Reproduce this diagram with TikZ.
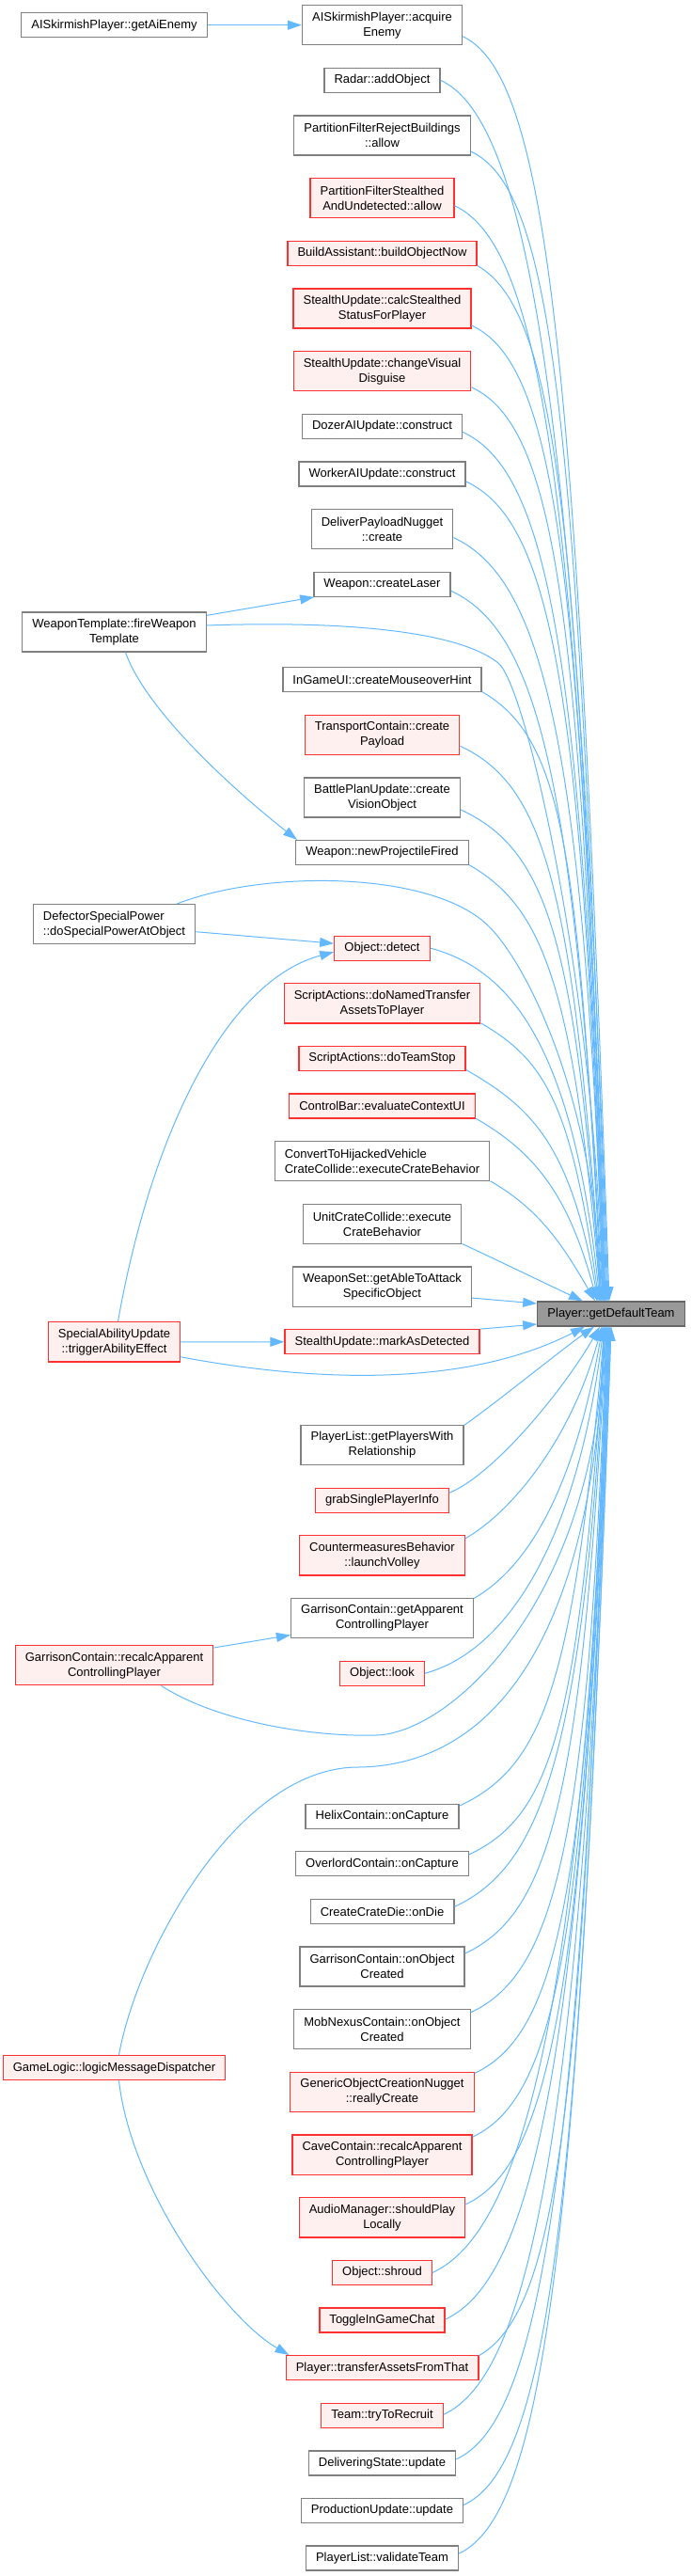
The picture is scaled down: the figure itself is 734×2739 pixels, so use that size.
\documentclass[tikz,border=0pt]{standalone}
\usepackage{fontspec}
\setmainfont{Liberation Sans}
\usetikzlibrary{arrows.meta, positioning}

\definecolor{edgeblue}{HTML}{63B8FF}
\definecolor{boxgray}{HTML}{7F7F7F}
\definecolor{boxred}{HTML}{FF3030}
\definecolor{boxpink}{HTML}{FFF0F0}
\definecolor{teamfill}{HTML}{999999}
\definecolor{teamdraw}{HTML}{666666}

\begin{document}
\begin{tikzpicture}[
    x=1pt, y=1pt,
    node distance=23.3pt,
    box/.style={rectangle, draw=boxgray, fill=white, line width=1.3pt,
    inner xsep=10.6pt, inner ysep=2pt, minimum height=26pt,
    align=center, font=\fontsize{13}{16}\selectfont},
    tall/.style={minimum height=42.1pt},
    warn/.style={draw=boxred, fill=boxpink},
    goalbox/.style={draw=teamdraw, fill=teamfill},
    arrow/.style={-{Triangle[length=15pt, width=10pt]}, draw=edgeblue,
    line width=1pt} ]

    \useasboundingbox (0,0) rectangle (734,-2739);

    % Called function
    \node[box, goalbox] (get_team) at (650,-1397) {Player::getDefaultTeam};

    % Direct callers (middle column)
    \node[box, tall] (acquire_enemy) at (406.5,-26.7)
	    {AISkirmishPlayer::acquire\\Enemy};
    \node[box, below=of acquire_enemy] (radar_add) {Radar::addObject};
    \node[box, tall, below=of radar_add] (reject_allow)
	    {PartitionFilterRejectBuildings\\::allow};
    \node[box, tall, warn, below=of reject_allow] (stealth_allow)
	    {PartitionFilterStealthed\\AndUndetected::allow};
    \node[box, warn, below=of stealth_allow] (build_now)
	    {BuildAssistant::buildObjectNow};
    \node[box, tall, warn, below=of build_now] (calc_status)
	    {StealthUpdate::calcStealthed\\StatusForPlayer};
    \node[box, tall, warn, below=of calc_status] (change_disguise)
	    {StealthUpdate::changeVisual\\Disguise};
    \node[box, below=of change_disguise] (dozer_construct)
	    {DozerAIUpdate::construct};
    \node[box, below=of dozer_construct] (worker_construct)
	    {WorkerAIUpdate::construct};
    \node[box, tall, below=of worker_construct] (deliver_create)
	    {DeliverPayloadNugget\\::create};
    \node[box, below=of deliver_create] (create_laser) {Weapon::createLaser};
    \node[box, below=74pt of create_laser] (mouseover_hint)
	    {InGameUI::createMouseoverHint};
    \node[box, tall, warn, below=of mouseover_hint] (transport_payload)
	    {TransportContain::create\\Payload};
    \node[box, tall, below=of transport_payload] (vision_object)
	    {BattlePlanUpdate::create\\VisionObject};
    \node[box, below=of vision_object] (new_projectile)
	    {Weapon::newProjectileFired};
    \node[box, warn, below=74.3pt of new_projectile] (detect) {Object::detect};
    \node[box, tall, warn, below=of detect] (named_transfer)
	    {ScriptActions::doNamedTransfer\\AssetsToPlayer};
    \node[box, warn, below=of named_transfer] (team_stop)
	    {ScriptActions::doTeamStop};
    \node[box, warn, below=of team_stop] (context_ui)
	    {ControlBar::evaluateContextUI};
    \node[box, tall, align=left, below=of context_ui] (exec_hijack)
	    {ConvertToHijackedVehicle\\CrateCollide::executeCrateBehavior};
    \node[box, tall, below=of exec_hijack] (exec_unit)
	    {UnitCrateCollide::execute\\CrateBehavior};
    \node[box, tall, below=of exec_unit] (weapon_set)
	    {WeaponSet::getAbleToAttack\\SpecificObject};
    \node[box, warn, below=of weapon_set] (mark_detected)
	    {StealthUpdate::markAsDetected};
    \node[box, tall, below=74.4pt of mark_detected] (players_with)
	    {PlayerList::getPlayersWith\\Relationship};
    \node[box, warn, below=of players_with] (grab_info) {grabSinglePlayerInfo};
    \node[box, tall, warn, below=of grab_info] (launch_volley)
	    {CountermeasuresBehavior\\::launchVolley};
    \node[box, tall, below=of launch_volley] (garr_get)
	    {GarrisonContain::getApparent\\ControllingPlayer};
    \node[box, warn, below=of garr_get] (look) {Object::look};
    \node[box, below=124.7pt of look] (helix_capture) {HelixContain::onCapture};
    \node[box, below=of helix_capture] (overlord_capture)
	    {OverlordContain::onCapture};
    \node[box, below=of overlord_capture] (crate_die) {CreateCrateDie::onDie};
    \node[box, tall, below=of crate_die] (garr_created)
	    {GarrisonContain::onObject\\Created};
    \node[box, tall, below=of garr_created] (mob_created)
	    {MobNexusContain::onObject\\Created};
    \node[box, tall, warn, below=of mob_created] (really_create)
	    {GenericObjectCreationNugget\\::reallyCreate};
    \node[box, tall, warn, below=of really_create] (cave_recalc)
	    {CaveContain::recalcApparent\\ControllingPlayer};
    \node[box, tall, warn, below=of cave_recalc] (play_locally)
	    {AudioManager::shouldPlay\\Locally};
    \node[box, warn, below=of play_locally] (shroud) {Object::shroud};
    \node[box, warn, below=of shroud] (toggle_chat) {ToggleInGameChat};
    \node[box, warn, below=of toggle_chat] (transfer_assets)
	    {Player::transferAssetsFromThat};
    \node[box, warn, below=of transfer_assets] (try_recruit)
	    {Team::tryToRecruit};
    \node[box, below=of try_recruit] (delivering_update)
	    {DeliveringState::update};
    \node[box, below=of delivering_update] (production_update)
	    {ProductionUpdate::update};
    \node[box, below=of production_update] (validate_team)
	    {PlayerList::validateTeam};

    % Indirect callers (left column)
    \node[box] (get_ai_enemy) at (121.5,-26.7) {AISkirmishPlayer::getAiEnemy};
    \node[box, tall] (fire_weapon) at (121.5,-672)
	    {WeaponTemplate::fireWeapon\\Template};
    \node[box, tall, align=left] (defector) at (121.5,-982.7)
	    {DefectorSpecialPower\\::doSpecialPowerAtObject};
    \node[box, tall, warn] (trigger_ability) at (121.5,-1426.8)
	    {SpecialAbilityUpdate\\::triggerAbilityEffect};
    \node[box, tall, warn] (garr_recalc) at (121.5,-1770.7)
	    {GarrisonContain::recalcApparent\\ControllingPlayer};
    \node[box, warn] (logic_dispatch) at (121.5,-2198.7)
	    {GameLogic::logicMessageDispatcher};

    % Calls coming down into the top of the target
    \foreach \src/\dy/\oa/\od/\ex/\ia/\id in {
        acquire_enemy/-12/-25/100/-2/92/1000, radar_add/0/-25/100/-3/92/970,
        reject_allow/-17/-25/100/-4/92/920, stealth_allow/-8/-25/100/-5/92/870,
        build_now/-13/-30/100/-6/92/820, calc_status/-18/-25/100/-6/92/780,
        change_disguise/-17/-25/100/-7/92/730,
        dozer_construct/-6/-25/100/-7/92/690,
        worker_construct/-8/-25/100/-8/92/650,
        deliver_create/-9/-25/100/-8/92/610, create_laser/-7/-25/100/-9/93/560,
        mouseover_hint/-13/-30/100/-10/93/480,
        transport_payload/-12/-25/100/-10/94/440,
        vision_object/-13/-25/100/-11/94/390,
        new_projectile/-13/-30/90/-11/95/340, detect/0/-15/90/-12/96/270,
        named_transfer/-21/-30/80/-13/98/210, team_stop/-12/-30/80/-14/100/170,
        context_ui/-13/-30/70/-15/105/120, exec_hijack/-21/-30/60/-17/120/70,
        exec_unit/-21/-25/40/-30/155/30}
      \draw[arrow] ([shift={(0,\dy)}]\src.east) .. controls +(\oa:\od)
        and +(\ia:\id) .. ([shift={(\ex,0)}]get_team.north);

    % Calls coming up into the bottom of the target
    \foreach \src/\dy/\oa/\od/\ex/\ia/\id in {
        players_with/21/35/40/-18/-145/40, grab_info/8/22/50/-12/-120/80,
        launch_volley/18/30/60/-10/-105/120, garr_get/21/30/70/-9/-100/170,
        look/0/15/90/-8/-97/230, helix_capture/11/25/100/-7/-95/380,
        overlord_capture/10/25/100/-6/-94/420, crate_die/5/25/100/-6/-93/460,
        garr_created/14/25/100/-5/-93/500, mob_created/18/25/100/-5/-92/545,
        really_create/20/25/100/-4/-92/595, cave_recalc/19/25/100/-4/-92/645,
        play_locally/14/25/100/-3/-92/700, shroud/0/25/100/-3/-92/750,
        toggle_chat/1/25/100/-2/-92/790, transfer_assets/13/30/100/-2/-92/820,
        try_recruit/1/25/100/-1/-92/865, delivering_update/4/25/100/-1/-92/900,
        production_update/6/25/100/0/-92/940, validate_team/5/25/100/0/-92/975}
      \draw[arrow] ([shift={(0,\dy)}]\src.east) .. controls +(\oa:\od)
        and +(\ia:\id) .. ([shift={(\ex,0)}]get_team.south);

    % Calls into the left side of the target
    \draw[arrow] ([yshift=-12pt]weapon_set.east) -- ([yshift=11pt]get_team.west);
    \draw[arrow] (mark_detected.north east) -- ([yshift=-11pt]get_team.west);

    % Calls from the left column
    \draw[arrow] (get_ai_enemy) -- (acquire_enemy);
    \draw[arrow] ([yshift=-4pt]fire_weapon.north east)
	    -- ([xshift=1pt]create_laser.south west);
    \draw[arrow] ([yshift=7pt]fire_weapon.east)
	    .. controls (330,-661) and (480,-665) .. (530,-705)
	    .. controls (560,-729) and (632,-1050) .. ([xshift=-9pt]get_team.north);
    \draw[arrow] ([xshift=12pt]fire_weapon.south) .. controls +(25,-70)
	    and +(-45,35) .. ([xshift=2pt]new_projectile.north west);
    \draw[arrow] ([xshift=-20pt]defector.north east)
	    .. controls (280,-925) and (460,-925) .. (520,-985)
	    .. controls (565,-1030) and (634,-1180) .. ([xshift=-12pt]get_team.north);
    \draw[arrow] ([yshift=-8pt]defector.east) -- ([yshift=5pt]detect.west);
    \draw[arrow] ([xshift=4pt]trigger_ability.north) .. controls +(80:200)
	    and +(-165:120) .. ([yshift=-4pt]detect.west);
    \draw[arrow] (trigger_ability) -- (mark_detected);
    \draw[arrow] ([yshift=-16pt]trigger_ability.east)
	    .. controls (364,-1475) and (510,-1468) .. ([xshift=-28pt]get_team.south);
    \draw[arrow] ([yshift=-3pt]garr_recalc.north east)
	    -- ([yshift=-18pt]garr_get.west);
    \draw[arrow] ([xshift=50pt]garr_recalc.south)
	    .. controls (230,-1830) and (330,-1847) .. (400,-1845)
	    .. controls (480,-1843) and (635,-1700) .. ([xshift=-8pt]get_team.south);
    \draw[arrow] ([xshift=5pt]logic_dispatch.north)
	    .. controls (145,-2080) and (250,-1880) .. (380,-1879)
	    .. controls (520,-1878) and (630,-1750) .. ([xshift=-7pt]get_team.south);
    \draw[arrow] ([xshift=5pt]logic_dispatch.south) .. controls (140,-2330)
	    and (240,-2465) .. ([xshift=4pt]transfer_assets.north west);

  \end{tikzpicture}
\end{document}
